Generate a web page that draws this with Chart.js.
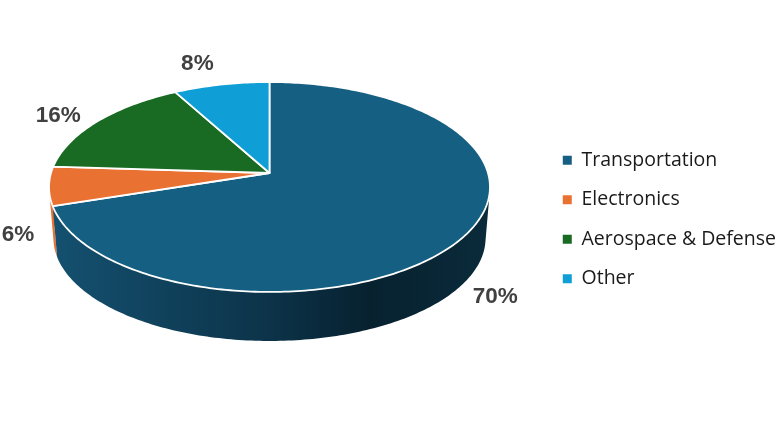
<!DOCTYPE html>
<html>
<head>
<meta charset="utf-8">
<script src="https://cdn.jsdelivr.net/npm/chart.js@4/dist/chart.umd.min.js"></script>
<style>
    html, body { margin: 0; padding: 0; background: #fff; }
    canvas { display: block; }
</style>
</head>
<body>
<canvas id="myChart" width="780" height="439"></canvas>
<script>
const categories = ["Transportation", "Electronics", "Aerospace & Defense", "Other"];
const shares = [70, 6, 16, 8];
const colors = ["#156082", "#E97132", "#196B24", "#0F9ED5"];

// where the pie sits on the page and how the perspective squashes it
const apexX = 269.5;
const apexY = 173;
const radiusX = 218.5;
const radiusY = 103.1;
const tilt = -0.1333;
const floorScale = 0.98;
const floorApexY = 224.4;

// label offset from the rim at the middle of each slice
const labelOffsets = [[34, 58], [-31, 49], [-39, -6], [-24, -21]];

function project(angle, bottom) {
    const u = Math.cos(angle);
    const v = Math.sin(angle);
    const w = 1 + tilt * v;
    const s = bottom ? floorScale : 1;
    return {
        x: apexX + (radiusX * s * u) / w,
        y: (bottom ? floorApexY : apexY) + (radiusY * s * v) / w,
    };
}

function wallFill(ctx, index) {
    if (index !== 0) return colors[index];
    const g = ctx.createLinearGradient(56, 0, 484, 0);
    g.addColorStop(0, "#14506f");
    g.addColorStop(0.5, "#0c3349");
    g.addColorStop(0.73, "#07212f");
    g.addColorStop(1, "#0a2a3a");
    return g;
}

const pie3d = {
    id: "pie3d",
    beforeDatasetsDraw(chart) {
        const ctx = chart.ctx;
        const arcs = chart.getDatasetMeta(0).data;

        // side wall first, last slice at the back
        for (let i = arcs.length - 1; i >= 0; i--) {
            const { startAngle, endAngle } = arcs[i];
            const steps = Math.ceil((endAngle - startAngle) * 60);
            ctx.beginPath();
            for (let n = 0; n < steps; n++) {
                const a0 = startAngle + ((endAngle - startAngle) * n) / steps;
                const a1 = startAngle + ((endAngle - startAngle) * (n + 1)) / steps;
                const q = [project(a0), project(a1), project(a1, true), project(a0, true)];
                // all quads wound the same way so the one fill has no seams or holes
                let area = 0;
                q.forEach((p, k) => {
                    const next = q[(k + 1) % 4];
                    area += p.x * next.y - next.x * p.y;
                });
                if (area < 0) q.reverse();
                ctx.moveTo(q[0].x, q[0].y);
                q.slice(1).forEach((p) => ctx.lineTo(p.x, p.y));
                ctx.closePath();
            }
            ctx.fillStyle = wallFill(ctx, i);
            ctx.fill();
        }

        // top face
        arcs.forEach((arc, i) => {
            const steps = Math.ceil((arc.endAngle - arc.startAngle) * 60);
            ctx.beginPath();
            ctx.moveTo(apexX, apexY);
            for (let n = 0; n <= steps; n++) {
                const p = project(arc.startAngle + ((arc.endAngle - arc.startAngle) * n) / steps);
                ctx.lineTo(p.x, p.y);
            }
            ctx.closePath();
            ctx.fillStyle = colors[i];
            ctx.fill();
            ctx.strokeStyle = "#fff";
            ctx.lineWidth = 1.8;
            ctx.lineJoin = "round";
            ctx.stroke();
        });
        return false;
    },
    afterDraw(chart) {
        const ctx = chart.ctx;
        ctx.save();
        ctx.font = "bold 22.5px 'Liberation Sans'";
        ctx.fillStyle = "#404040";
        ctx.textAlign = "center";
        ctx.textBaseline = "middle";
        chart.getDatasetMeta(0).data.forEach((arc, i) => {
            const rim = project((arc.startAngle + arc.endAngle) / 2);
            ctx.fillText(shares[i] + "%", rim.x + labelOffsets[i][0], rim.y + labelOffsets[i][1]);
        });
        ctx.restore();
    },
};

new Chart(document.getElementById("myChart"), {
    type: "pie",
    data: {
        labels: categories,
        datasets: [{ data: shares, backgroundColor: colors, borderWidth: 0 }],
    },
    options: {
        responsive: false,
        animation: false,
        layout: { padding: { right: -6 } },
        plugins: {
            tooltip: { enabled: false },
            legend: {
                position: "right",
                labels: {
                    boxWidth: 9,
                    boxHeight: 9,
                    padding: 20,
                    color: "#1a1a1a",
                    font: { family: "'Open Sans'", size: 19.5 },
                },
            },
        },
    },
    plugins: [pie3d],
});
</script>
</body>
</html>
